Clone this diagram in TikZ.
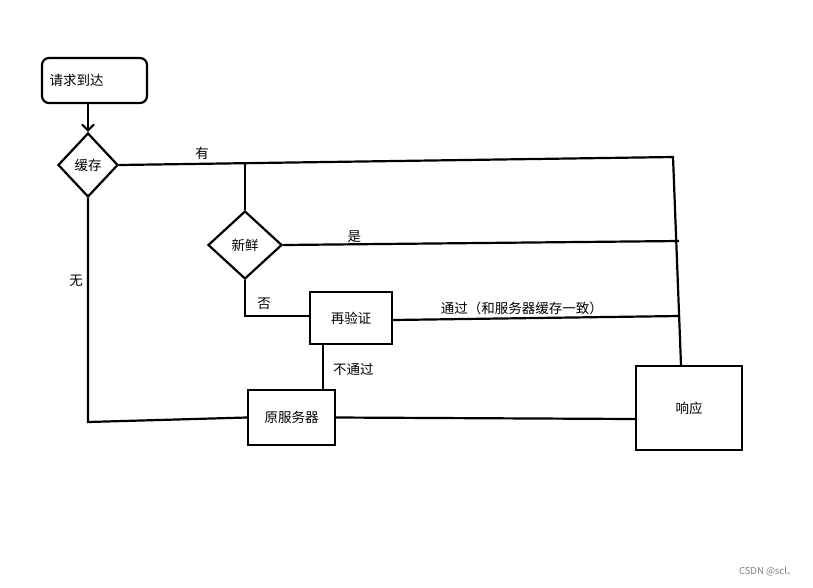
\documentclass[tikz,border=0pt]{standalone}
\usepackage{fontspec}
\setmainfont{Noto Sans CJK SC}
\usetikzlibrary{shapes.geometric,arrows.meta}
\begin{document}
\begin{tikzpicture}[x=1pt,y=-1pt,
  ln/.style={line width=2.2pt},
  bx/.style={draw,line width=2.2pt,inner sep=0pt,font=\fontsize{13.5}{15}\selectfont},
  dm/.style={draw,diamond,line width=2.2pt,inner sep=0pt,aspect=1,font=\fontsize{13.5}{15}\selectfont},
  lb/.style={font=\fontsize{13.5}{15}\selectfont,inner sep=1pt}]
\useasboundingbox[fill=white] (0,0) rectangle (813,587);
\node[bx,rounded corners=7pt,minimum width=105pt,minimum height=45pt,text width=90pt,align=left] (req) at (94.5,80.5) {请求到达};
\node[dm,minimum width=60pt,minimum height=64pt] (cache) at (88,165) {缓存};
\node[dm,minimum width=74pt,minimum height=68pt] (fresh) at (245,245) {新鲜};
\node[bx,minimum width=82pt,minimum height=52pt] (reval) at (351,318) {再验证};
\node[bx,minimum width=87pt,minimum height=55pt] (orig) at (291.5,417.5) {原服务器};
\node[bx,minimum width=106pt,minimum height=84pt] (resp) at (689,408) {响应};
\draw[ln,-{Straight Barb[length=6pt,width=12pt]}] (req.south -| cache.north) -- (cache.north);
\coordinate (c1) at (673,157);
\draw[ln] (cache.east) -- node[pos=0.15,above,lb,yshift=2pt]{有} (c1) -- (resp.north -| 681,0);
\coordinate (c2) at (245,162.5);
\draw[ln] (c2) -- (fresh.north);
\coordinate (c3) at (679,241);
\draw[ln] (fresh.east) -- node[pos=0.18,above,lb]{是} (c3);
\coordinate (c4) at (245,316);
\draw[ln] (fresh.south) -- (c4) -- node[above,lb,pos=0.3,yshift=4pt]{否} (reval.west |- c4);
\coordinate (c5) at (679,316);
\draw[ln] (reval.east |- 0,320) -- node[above,lb,pos=0.45,yshift=1pt]{通过（和服务器缓存一致）} (c5);
\draw[ln] (323,344) -- node[right,lb,xshift=8pt,pos=0.55]{不通过} (323,390);
\coordinate (c6) at (88,422);
\draw[ln] (cache.south) -- node[left,lb,pos=0.37,xshift=-3pt]{无} (c6) -- (orig.west);
\draw[ln] (orig.east) -- (resp.west |- 0,419);
\node[font=\fontsize{9.5}{11}\selectfont,text=gray,anchor=east] (wm) at (800,572) {CSDN @scl、};
\end{tikzpicture}
\end{document}
